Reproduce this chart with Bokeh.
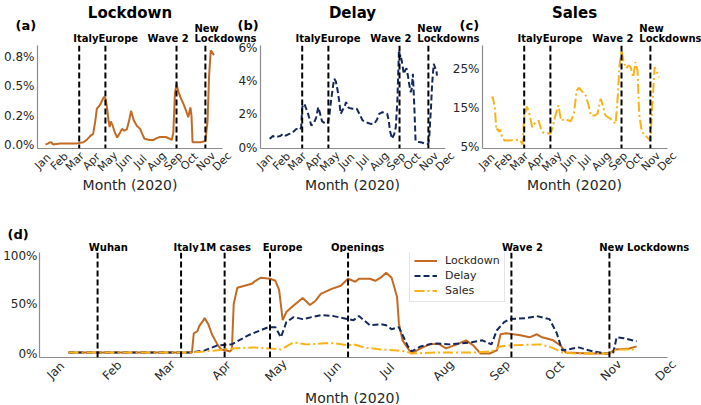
import datetime as dt
from math import pi
from bokeh.plotting import figure
from bokeh.models import Range1d, Span, Label, Legend, LegendItem, FixedTicker
from bokeh.core.properties import value
from bokeh.layouts import row, column
from bokeh.embed import file_html
from bokeh.resources import INLINE

# ---------------- data (day = days since 2020-01-01) ----------------
# Panel (a) Lockdown, share in %
a_day = [5, 10, 14, 17, 19, 25, 33, 50, 64, 76, 82, 86, 90, 94, 98, 101, 105, 108, 112, 114, 117,
         120, 123, 125, 127, 130, 135, 139, 143, 148, 152, 157, 161, 165, 170, 176, 182, 186, 190,
         200, 207, 213, 219, 230, 237, 241, 244, 247, 250, 254, 257, 263, 268, 272, 276, 278, 280,
         295, 304, 308, 311, 314, 316, 320]
a_val = [0.00, 0.01, 0.02, 0.015, 0.0, 0.005, 0.01, 0.01, 0.01, 0.02, 0.04, 0.06, 0.08, 0.09, 0.2,
         0.31, 0.33, 0.35, 0.39, 0.41, 0.40, 0.32, 0.2, 0.15, 0.2, 0.17, 0.1, 0.06, 0.09, 0.135, 0.12,
         0.13, 0.2, 0.29, 0.21, 0.16, 0.135, 0.09, 0.05, 0.04, 0.04, 0.055, 0.065, 0.065, 0.05, 0.04,
         0.1, 0.44, 0.52, 0.45, 0.41, 0.35, 0.29, 0.235, 0.32, 0.25, 0.02, 0.02, 0.03, 0.2, 0.6, 0.81,
         0.80, 0.77]

# Panel (b) Delay, share in %
b_day = [7, 10, 13, 17, 22, 27, 32, 37, 42, 48, 53, 57, 63, 66, 68, 72, 79, 85, 90, 94, 98, 101,
         105, 112, 116, 119, 122, 126, 128, 131, 134, 137, 140, 144, 147, 150, 155, 162, 170, 175,
         181, 190, 196, 203, 208, 212, 218, 227, 230, 232, 236, 240, 243, 246, 249, 251, 252, 255,
         258, 261, 263, 266, 268, 271, 273, 275, 278, 280, 286, 292, 299, 304, 306, 309, 311, 314,
         317, 319, 320]
b_val = [0.53, 0.6, 0.7, 0.63, 0.66, 0.7, 0.83, 0.72, 0.8, 0.86, 1.0, 1.13, 1.07, 1.2, 2.44, 2.65,
         2.04, 1.33, 1.5, 1.8, 2.44, 2.1, 1.6, 1.43, 1.5, 2.0, 2.85, 3.8, 4.16, 4.0, 3.5, 2.85, 2.04,
         2.3, 2.44, 2.75, 2.4, 2.35, 2.35, 2.04, 1.64, 1.5, 1.43, 1.45, 1.7, 2.04, 2.14, 2.04, 1.6,
         1.03, 0.53, 0.8, 1.23, 2.85, 5.88, 5.5, 5.6, 5.1, 4.47, 4.7, 4.8, 4.3, 3.86, 3.35, 3.6, 4.47,
         2.24, 0.42, 0.33, 0.3, 0.22, 0.22, 0.83, 2.5, 3.86, 5.07, 4.8, 4.67, 4.36]

# Panel (c) Sales, share in %
c_day = [8, 9, 13, 16, 18, 21, 23, 26, 31, 40, 50, 56, 61, 65, 68, 71, 73, 77, 83, 86, 90, 95, 100,
         105, 117, 121, 124, 128, 132, 137, 143, 150, 155, 161, 166, 171, 175, 183, 188, 193, 200,
         205, 211, 214, 220, 230, 239, 243, 246, 250, 254, 259, 263, 267, 272, 276, 280, 283, 288,
         298, 304, 307, 312, 316, 320]
c_val = [17.5, 18, 15.3, 9.4, 9.8, 9.0, 9.6, 8, 6.8, 6.8, 6.9, 7.0, 6.6, 5.8, 12.8, 14.5, 15.5, 14,
         10.2, 11, 11.4, 11.9, 9.4, 8.7, 8.6, 10, 11.9, 14, 15.8, 11.9, 12.3, 12.0, 11.7, 13.6, 19.6,
         20.3, 19.6, 18.3, 16, 13.2, 13.2, 13.6, 17.5, 16.3, 13.2, 12.3, 11.1, 18.3, 25.6, 29.9, 26.9,
         25.3, 26.0, 25.7, 23.0, 26.9, 24.8, 13.6, 9.0, 7.6, 6.8, 14.5, 25.6, 24.4, 23]

# Panel (d) shares in %
d_lock_day = [6, 30, 55, 74, 75, 77, 78, 80, 81, 83, 85, 88, 90, 93, 95, 96, 97, 99, 103, 107, 109,
              112, 117, 120, 122, 124, 126, 129, 135, 139, 142, 145, 151, 156, 160, 164, 166, 172,
              175, 178, 181, 184, 187, 188, 190, 193, 195, 200, 205, 210, 214, 220, 225, 229, 233,
              238, 242, 244, 247, 255, 260, 264, 267, 273, 277, 280, 293, 304, 307, 315, 319]
d_lock_val = [2, 2, 2, 2, 21, 23, 28, 33, 36, 30, 20, 10, 5, 4, 3, 5, 50, 66, 68, 70, 73, 76, 75, 73,
              64, 34, 42, 47, 56, 49, 53, 60, 65, 68, 75, 72, 75, 75, 73, 76, 81, 76, 57, 31, 14, 6,
              1, 6, 10, 10.5, 6, 10, 14, 9, 1, 1, 4, 20, 21, 19, 17, 20, 17, 14, 9, 2, 1, 1, 5, 6, 8]
d_delay_day = [6, 74, 81, 88, 96, 105, 116, 120, 123, 126, 130, 135, 140, 145, 152, 160, 163, 166,
               172, 178, 181, 184, 188, 193, 195, 200, 207, 216, 228, 234, 239, 242, 246, 249, 258,
               264, 271, 275, 278, 287, 295, 302, 306, 308, 312, 319]
d_delay_val = [2, 2, 4, 9, 10, 19, 27, 27, 17, 32, 37, 35, 37, 39, 38, 35, 34, 38, 29, 30, 29, 25,
               27, 8, 3, 8, 11, 10, 12, 14, 10, 24, 32, 35, 36, 38, 35, 21, 4, 7, 3, 1, 1, 17, 16, 13]
d_sales_day = [6, 74, 87, 97, 108, 117, 123, 130, 137, 147, 153, 160, 163, 169, 178, 187, 192, 195,
               210, 230, 239, 244, 249, 266, 272, 278, 285, 304, 308, 319]
d_sales_val = [2, 2, 4, 6, 7, 6, 5, 12, 10, 11, 11, 9, 10, 7, 5, 4, 3, 1, 2, 2, 3, 8, 9, 10, 7, 2, 1,
               1, 5, 5]

# events
top_events = ["Italy", "Europe", "Wave 2", "New Lockdowns"]
top_event_dates = ["2020-03-09", "2020-04-27", "2020-09-07", "2020-10-31"]
d_events = ["Wuhan", "Italy", "1M cases", "Europe", "Openings", "Wave 2", "New Lockdowns"]
d_event_dates = ["2020-01-23", "2020-03-09", "2020-04-02", "2020-04-27", "2020-06-09",
                 "2020-09-07", "2020-10-31"]

# tick labels
months = ["Jan", "Feb", "Mar", "Apr", "May", "Jun", "Jul", "Aug", "Sep", "Oct", "Nov", "Dec"]
month_starts = ["2020-%02d-01" % m for m in range(1, 13)]
a_ticks, a_tick_labels = [0, 0.25, 0.5, 0.75], ["0.0%", "0.2%", "0.5%", "0.8%"]
b_ticks, b_tick_labels = [0, 2, 4, 6], ["0%", "2%", "4%", "6%"]
c_ticks, c_tick_labels = [5, 15, 25], ["5%", "15%", "25%"]
d_ticks, d_tick_labels = [0, 50, 100], ["0%", "50%", "100%"]

# ---------------- styles ----------------
FONT = "DejaVu Sans"
C_LOCK, C_DELAY, C_SALES = "#c46a22", "#14285e", "#fbb117"
AX = "#8c8c8c"
TXT = "#262626"
START, END = dt.datetime(2019, 12, 22), dt.datetime(2020, 12, 2)
MID = START + (END - START) / 2
JAN1 = dt.datetime(2020, 1, 1)
W = 701


def to_dt(days):
    return [JAN1 + dt.timedelta(days=d) for d in days]


def parse(s):
    return dt.datetime.strptime(s, "%Y-%m-%d")


def panel_range(frame_left, frame_width):
    # date range of a full-width strip whose scale matches a panel's frame
    span = END - START
    return Range1d(START - span * (frame_left / frame_width),
                   START + span * ((W - frame_left) / frame_width))


def strip(height):
    p = figure(width=W, height=height, x_range=Range1d(0, W), y_range=Range1d(0, height),
               x_axis_location=None, y_axis_location=None,
               min_border_left=0, min_border_right=0, min_border_top=0, min_border_bottom=0,
               output_backend="svg", toolbar_location=None)
    p.outline_line_color = None
    p.grid.visible = False
    p.background_fill_alpha = 0
    p.border_fill_alpha = 0
    return p


def main_fig(width, height, left, right, top, yr, ticks, labels, standoff=3):
    p = figure(width=width, height=height, x_axis_type="datetime",
               x_range=Range1d(START, END), y_range=Range1d(*yr),
               output_backend="svg", toolbar_location=None,
               min_border_left=left, min_border_right=right,
               min_border_top=top, min_border_bottom=6)
    p.margin = (-top, 0, -6, 0)
    p.outline_line_color = None
    p.grid.grid_line_color = None
    p.background_fill_alpha = 0
    p.border_fill_alpha = 0
    xa, ya = p.xaxis[0], p.yaxis[0]
    xa.ticker = FixedTicker(ticks=[])
    ya.ticker = FixedTicker(ticks=ticks)
    ya.major_label_overrides = {t: l for t, l in zip(ticks, labels)}
    ya.major_label_text_font_size = "12px"
    ya.major_label_text_font = FONT
    ya.major_label_text_color = TXT
    ya.major_label_standoff = standoff
    for ax in (xa, ya):
        ax.axis_line_color = AX
        ax.axis_line_width = 1.2
        ax.major_tick_out = 0
        ax.major_tick_in = 0
        ax.minor_tick_out = 0
        ax.minor_tick_in = 0
    return p


def add_spans(p, dates):
    for d in dates:
        p.add_layout(Span(location=parse(d), dimension="height", line_color="black",
                          line_width=2, line_dash="6 3"))


def bold_label(p, rng, x, y, text, size="10px", off=0, align="left", baseline="alphabetic"):
    p.add_layout(Label(x=x, y=y, x_offset=off, text=text, x_range_name=rng,
                       text_align=align, text_baseline=baseline, text_font=FONT,
                       text_font_size=size, text_font_style="bold", text_color="black"))


def add_event_labels(p, rng, names, dates, offsets, y, two_line):
    for n, d, o in zip(names, dates, offsets):
        if two_line and n.startswith("New "):
            first, second = n.split(" ")
            bold_label(p, rng, parse(d), y + 10.5, first, off=o)
            bold_label(p, rng, parse(d), y, second, off=o)
        else:
            bold_label(p, rng, parse(d), y, n, off=o)


def add_month_labels(p, rng, y, size):
    p.text(x=[parse(s) for s in month_starts], y=[y] * len(months), text=months,
           angle=pi / 4, text_align="center", text_baseline="middle", x_range_name=rng,
           text_font=value(FONT), text_font_size=value(size), text_color=TXT)


def add_xlabel(p, rng, y):
    p.add_layout(Label(x=MID, y=y, text="Month (2020)", x_range_name=rng, text_align="center",
                       text_baseline="middle", text_font=FONT, text_font_size="14px",
                       text_color=TXT))


# ---------------- top row ----------------
frames = {"a": (37, 185), "b": (259, 186), "c": (481, 186)}
titles = {"a": "Lockdown", "b": "Delay", "c": "Sales"}
top_offsets = [-6, -7, -29, -11]

head_top = strip(45)
foot_top = strip(52)
for k, (fl, fw) in frames.items():
    head_top.extra_x_ranges[k] = panel_range(fl, fw)
    foot_top.extra_x_ranges[k] = panel_range(fl, fw)
    bold_label(head_top, k, MID, 33, titles[k], size="15px", align="center")
    bold_label(head_top, k, START, 20.5, "(%s)" % k, size="13px", off=-22, baseline="middle")
    add_event_labels(head_top, k, top_events, top_event_dates, top_offsets, 7, True)
    add_month_labels(foot_top, k, 39, "11px")
    add_xlabel(foot_top, k, 16)

pa = main_fig(235, 114, 37, 13, 5, (-0.034, 0.853), a_ticks, a_tick_labels)
pa.line(to_dt(a_day), a_val, line_color=C_LOCK, line_width=2)
add_spans(pa, top_event_dates)

pb = main_fig(214, 114, 24, 4, 5, (-0.06, 6.18), b_ticks, b_tick_labels)
pb.line(to_dt(b_day), b_val, line_color=C_DELAY, line_width=2, line_dash="6 3")
add_spans(pb, top_event_dates)

pc = main_fig(252, 114, 32, 34, 5, (4.74, 31.15), c_ticks, c_tick_labels)
pc.line(to_dt(c_day), c_val, line_color=C_SALES, line_width=2, line_dash="10 3 2 3")
add_spans(pc, top_event_dates)

# ---------------- bottom panel ----------------
head_d = strip(52)
foot_d = strip(47)
head_d.extra_x_ranges["d"] = panel_range(37, 630)
foot_d.extra_x_ranges["d"] = panel_range(37, 630)
bold_label(head_d, "d", START, 18.5, "(d)", size="13px", off=-30, baseline="middle")
add_event_labels(head_d, "d", d_events, d_event_dates, [-7, -6, -24, -6, -16, -9, -10], 5.5, False)
add_month_labels(foot_d, "d", 34, "12px")
add_xlabel(foot_d, "d", 7)

pd = main_fig(701, 115, 37, 34, 4, (-3, 101), d_ticks, d_tick_labels, standoff=2)
r1 = pd.line(to_dt(d_lock_day), d_lock_val, line_color=C_LOCK, line_width=2)
r2 = pd.line(to_dt(d_delay_day), d_delay_val, line_color=C_DELAY, line_width=2, line_dash="6 3")
r3 = pd.line(to_dt(d_sales_day), d_sales_val, line_color=C_SALES, line_width=2,
             line_dash="10 3 2 3")
add_spans(pd, d_event_dates)
legend = Legend(items=[LegendItem(label="Lockdown", renderers=[r1]),
                       LegendItem(label="Delay", renderers=[r2]),
                       LegendItem(label="Sales", renderers=[r3])],
                location=(370, 55))
legend.label_text_font = FONT
legend.label_text_font_size = "11px"
legend.label_text_color = TXT
legend.glyph_width = 23
legend.glyph_height = 13
legend.label_height = 13
legend.spacing = 2
legend.padding = 4
legend.margin = 0
legend.label_standoff = 8
legend.border_line_color = "#cccccc"
legend.background_fill_alpha = 0.85
pd.add_layout(legend)

layout = column(row(head_top), row(pa, pb, pc), row(foot_top), row(head_d), row(pd), row(foot_d))
open("out.html", "w").write(file_html(layout, INLINE))
